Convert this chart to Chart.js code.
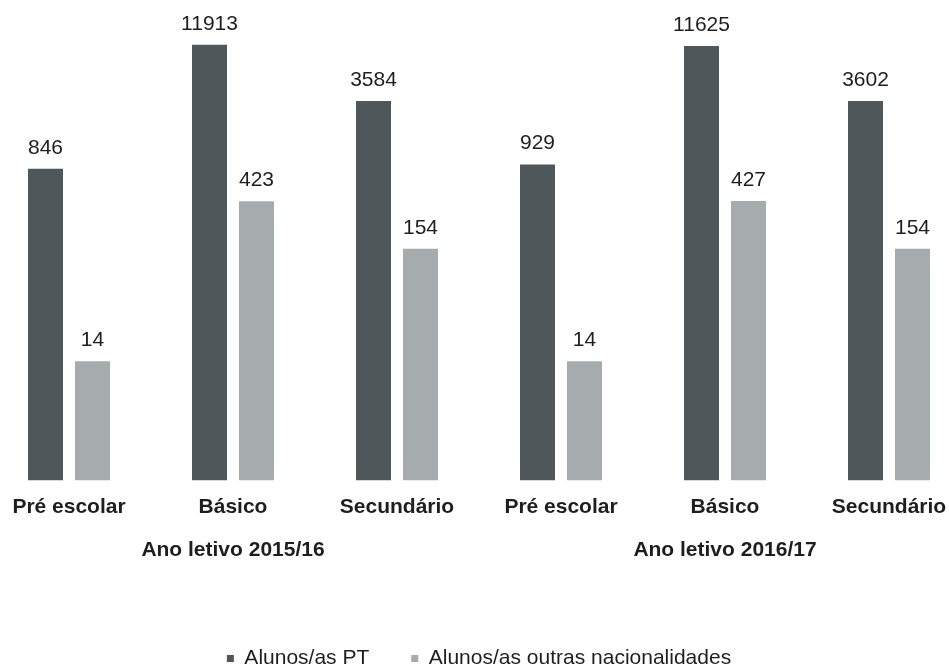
<!DOCTYPE html>
<html>
<head>
<meta charset="utf-8">
<script src="https://cdn.jsdelivr.net/npm/chart.js@4/dist/chart.umd.min.js"></script>
<style>
  html, body { margin: 0; padding: 0; background: #fff; overflow: hidden; width: 949px; height: 669px; }
  #chart { position: absolute; left: -13px; top: 0; }
</style>
</head>
<body>
<canvas id="chart" width="984" height="679"></canvas>
<script>
const categories = ['Pré escolar', 'Básico', 'Secundário', 'Pré escolar', 'Básico', 'Secundário'];
const groupLabels = ['', 'Ano letivo 2015/16', '', '', 'Ano letivo 2016/17', ''];
const seriesNames = ['Alunos/as PT', 'Alunos/as outras nacionalidades'];
const alunosPT = [846, 11913, 3584, 929, 11625, 3602];
const alunosOutras = [14, 423, 154, 14, 427, 154];

const colors = ['#4e585b', '#a6abab'];
const textColor = '#1e1e1e';
const fontFamily = '"Liberation Sans", Arial, sans-serif';

// value printed above each bar
const valueLabels = {
  id: 'valueLabels',
  afterDatasetsDraw(chart) {
    const ctx = chart.ctx;
    ctx.save();
    ctx.font = '21px ' + fontFamily;
    ctx.fillStyle = textColor;
    ctx.textAlign = 'center';
    ctx.textBaseline = 'alphabetic';
    chart.data.datasets.forEach((ds, i) => {
      chart.getDatasetMeta(i).data.forEach((bar, j) => {
        ctx.fillText(String(ds.data[j]), bar.x, bar.y - 15);
      });
    });
    ctx.restore();
  }
};

new Chart(document.getElementById('chart'), {
  type: 'bar',
  data: {
    labels: categories,
    datasets: [
      { label: seriesNames[0], data: alunosPT, backgroundColor: colors[0] },
      { label: seriesNames[1], data: alunosOutras, backgroundColor: colors[1] }
    ]
  },
  options: {
    responsive: false,
    animation: false,
    devicePixelRatio: 1,
    categoryPercentage: 0.573,
    barPercentage: 0.745,
    layout: { padding: { top: 10, left: 0, right: 0, bottom: 0 } },
    plugins: {
      tooltip: { enabled: false },
      legend: {
        position: 'bottom',
        labels: {
          boxWidth: 7,
          boxHeight: 7,
          padding: 42,
          color: textColor,
          font: { family: fontFamily, size: 21 }
        }
      }
    },
    scales: {
      y: {
        type: 'logarithmic',
        min: 1.1,
        max: 25000,
        display: false
      },
      x: {
        weight: 0,
        grid: { display: false, drawTicks: false },
        border: { display: false },
        ticks: {
          padding: 14,
          color: textColor,
          maxRotation: 0,
          minRotation: 0,
          autoSkip: false,
          font: { family: fontFamily, size: 21, weight: 'bold' }
        }
      },
      x2: {
        type: 'category',
        labels: groupLabels,
        position: 'bottom',
        offset: true,
        weight: 1,
        grid: { display: false, drawTicks: false },
        border: { display: false },
        title: { display: true, text: '', font: { size: 10 }, padding: { top: 27, bottom: 0 } },
        ticks: {
          padding: 4,
          color: textColor,
          maxRotation: 0,
          minRotation: 0,
          autoSkip: false,
          font: { family: fontFamily, size: 21, weight: 'bold' }
        }
      }
    }
  },
  plugins: [valueLabels]
});
</script>
</body>
</html>
